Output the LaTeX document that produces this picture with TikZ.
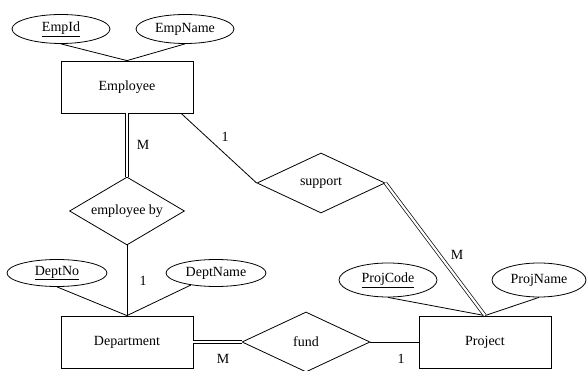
\documentclass[tikz,border=0pt]{standalone}
\usepackage{fontspec}
\setmainfont{Liberation Serif}
\usetikzlibrary{shapes.geometric,arrows,positioning}

\begin{document}
\begin{tikzpicture}[x=1pt,y=-1pt]
\tikzstyle{entity}=[rectangle,draw=black,line width=0.8pt,
minimum width=132pt,minimum height=52pt,
font=\fontsize{14}{16}\selectfont]
\tikzstyle{attr}=[ellipse,draw=black,line width=0.8pt,inner sep=0pt,
minimum width=98pt,minimum height=29pt,
font=\fontsize{14}{16}\selectfont]
\tikzstyle{rel}=[diamond,draw=black,line width=0.8pt,aspect=2,inner sep=0pt,
minimum width=128pt,minimum height=60pt,
font=\fontsize{14}{16}\selectfont]
\tikzstyle{card}=[inner sep=0pt,font=\fontsize{14}{16}\selectfont]
\tikzstyle{link}=[draw=black,line width=0.8pt]
\tikzstyle{total}=[draw=black,double=white,double distance=2.2pt,line width=0.7pt]

\useasboundingbox (0,0) rectangle (587,371);

\node[entity] at (127,87) (emp) {Employee};
\node[entity] at (127,342) (dept) {Department};
\node[entity] at (485,342) (proj) {Project};

\node[attr] at (61,29) (eid) {\underline{EmpId}};
\node[attr] at (185,29) (ename) {EmpName};
\node[attr,minimum width=100pt,minimum height=27pt] at (57,273) (dno) {\underline{DeptNo}};
\node[attr,minimum width=100pt,minimum height=27pt] at (216,273) (dname) {DeptName};
\node[attr,minimum height=34pt] at (388,280) (pcode) {\underline{ProjCode}};
\node[attr,minimum width=94pt,minimum height=34pt] at (539,280) (pname) {ProjName};

\node[rel,minimum width=115pt,minimum height=68pt] at (127,211) (empby) {employee by};
\node[rel] at (321,183) (supp) {support};
\node[rel] at (306,342) (fund) {fund};

\node[card] at (143,145) (c1) {M};
\node[card] at (143,281) (c2) {1};
\node[card] at (225,137) (c3) {1};
\node[card] at (457,255) (c4) {M};
\node[card] at (223,359) (c5) {M};
\node[card] at (401,359) (c6) {1};

\draw[link] (eid.south) -- (emp.north) ;
\draw[link] (ename.south) -- (emp.north) ;
\draw[link] (dno.south) -- (dept.north) ;
\draw[link] (dname) -- (dept.north) ;
\draw[link] (pcode.south) -- (proj.north) ;
\draw[link] (pname.south) -- (proj.north) ;

\draw[total] (emp) -- (empby) ;
\draw[link] (empby) -- (dept) ;
\draw[link] (emp.-26) -- (supp.west) ;
\draw[total] (supp.east) -- (proj.north) ;
\draw[total] (dept) -- (fund) ;
\draw[link] (fund) -- (proj) ;

\end{tikzpicture}
\end{document}
